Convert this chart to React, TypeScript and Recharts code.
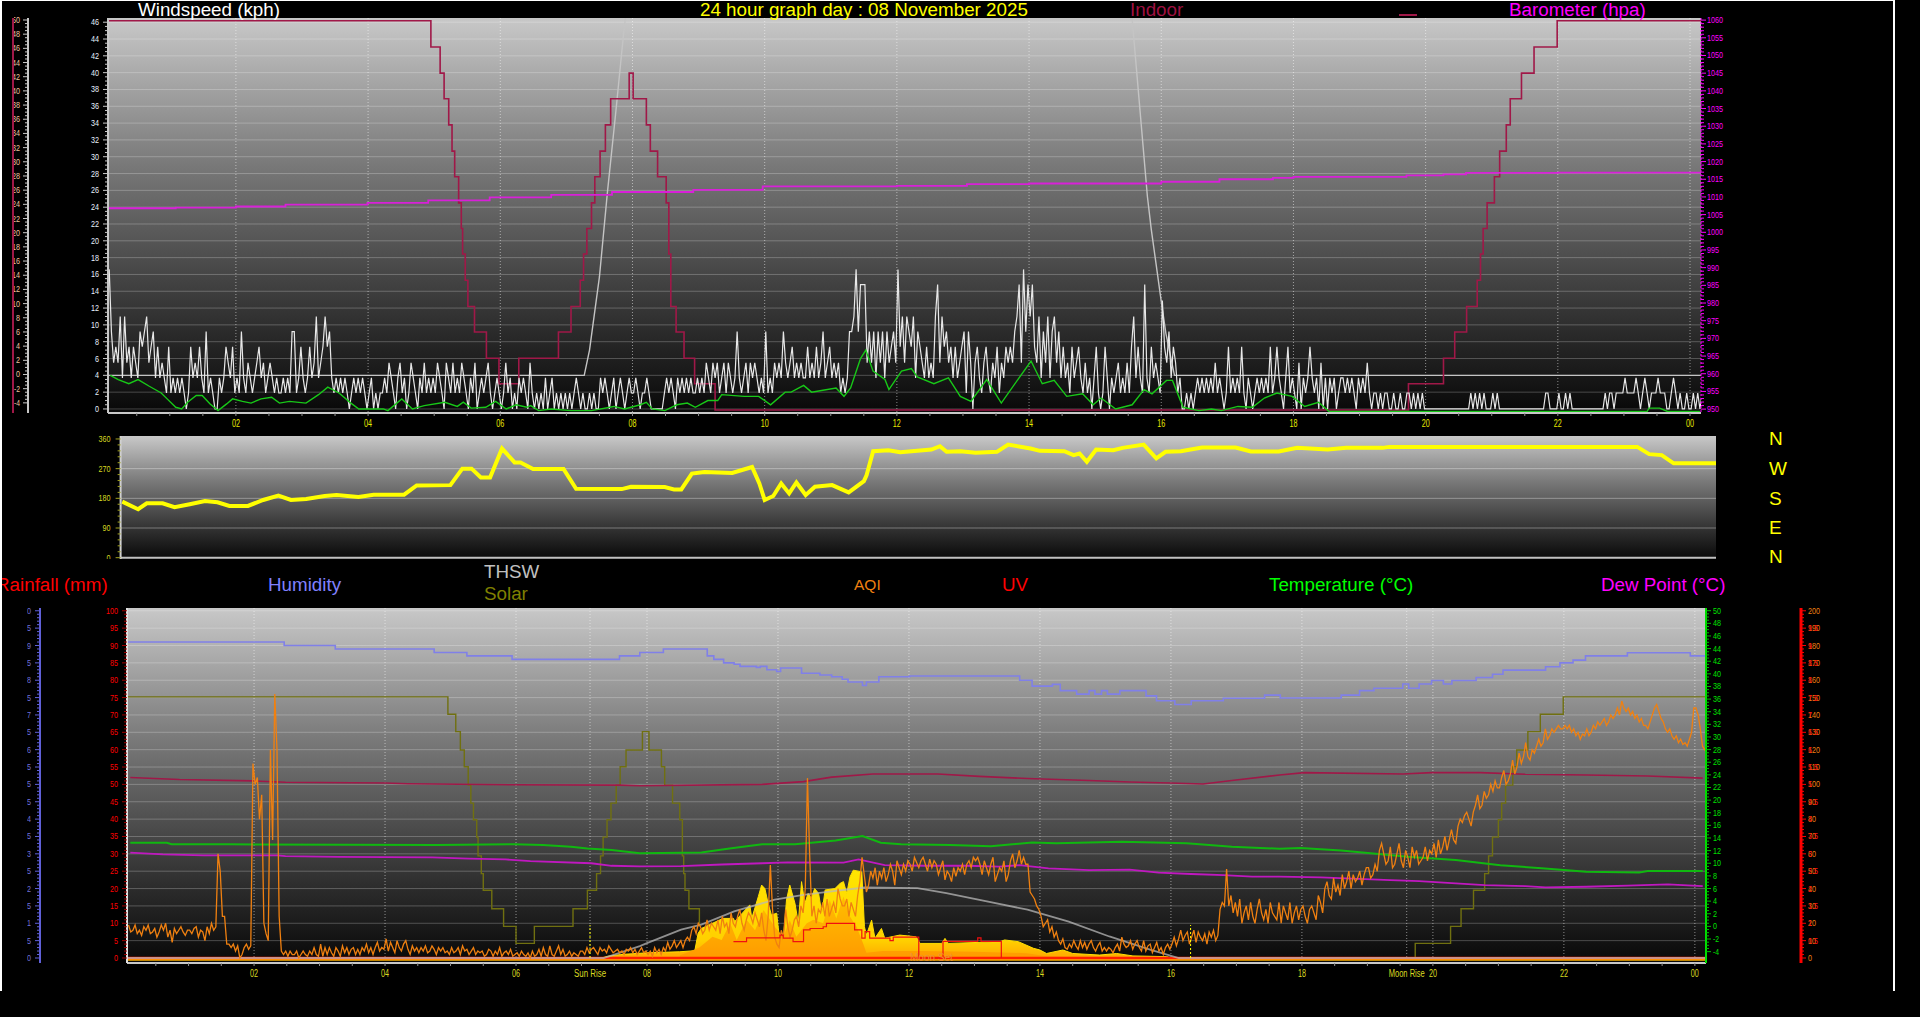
import { CartesianGrid, ComposedChart, Area, Line, ReferenceLine, XAxis, YAxis } from 'recharts'

// hours (decimal) and values, panel by panel

// ---- top panel ----
const windGustByHour = [
  [0,0,16.6,9.2,5.5,7.4,5.5,11,3.7,11,5.5,7.4,3.7,7.4,5.5,3.7,9.2,7.4,9.2,11,5.5,7.4,9.2,3.7,7.4,3.7,5.5,3.7,1.9,7.4],
  [1.9,3.7,1.9,3.7,1.9,3.7,1.9,0,1.9,7.4,3.7,5.5,3.7,7.4,3.7,1.9,9.2,1.9,3.7,1.9,0,0,3.7,1.9,3.7,7.4,5.5,3.7,7.4,1.9],
  [3.7,1.9,9.2,3.7,1.9,5.5,3.7,1.9,3.7,5.5,7.4,3.7,5.5,1.9,3.7,5.5,3.7,1.9,3.7,1.9,1.9,3.7,1.9,3.7,1.9,9.2,9.2,1.9,3.7,7.4],
  [3.7,1.9,3.7,7.4,3.7,5.5,11,3.7,5.5,7.4,11,7.4,9.2,3.7,1.9,3.7,1.9,3.7,1.9,3.7,1.9,0,1.9,3.7,1.9,3.7,1.9,3.7,1.9,0],
  [1.9,3.7,0,1.9,0,1.9,1.9,3.7,1.9,5.5,3.7,1.9,0,3.7,5.5,1.9,3.7,0,1.9,5.5,3.7,1.9,0,3.7,1.9,5.5,1.9,3.7,1.9,3.7],
  [1.9,5.5,3.7,1.9,0,5.5,3.7,1.9,5.5,1.9,3.7,1.9,5.5,3.7,1.9,0,3.7,1.9,5.5,0,1.9,3.7,1.9,3.7,5.5,1.9,0,1.9,3.7,1.9],
  [0,1.9,5.5,1.9,3.7,0,1.9,0,3.7,1.9,3.7,1.9,0,5.5,1.9,0,1.9,0,1.9,0,3.7,0,1.9,3.7,0,1.9,0,1.9,0,1.9],
  [0,1.9,0,1.9,3.7,1.9,0,1.9,0,0,1.9,0,1.9,0,0,3.7,1.9,3.7,1.9,0,1.9,3.7,0,1.9,3.7,1.9,0,1.9,3.7,1.9],
  [1.9,3.7,1.9,0,1.9,1.9,3.7,1.9,0,0,0,0,0,0,1.9,3.7,1.9,3.7,1.9,0,3.7,1.9,3.7,1.9,3.7,1.9,3.7,1.9,1.9,3.7],
  [1.9,3.7,1.9,5.5,3.7,1.9,5.5,3.7,5.5,1.9,3.7,5.5,1.9,5.5,3.7,1.9,3.7,9.2,3.7,1.9,3.7,5.5,1.9,5.5,3.7,5.5,3.7,1.9,3.7,1.9],
  [9.2,1.9,3.7,1.9,5.5,3.7,5.5,3.7,9.2,5.5,3.7,5.5,7.4,3.7,5.5,3.7,5.5,3.7,3.7,7.4,3.7,5.5,3.7,7.4,3.7,5.5,9.2,3.7,5.5,7.4],
  [3.7,5.5,3.7,5.5,1.9,3.7,1.9,3.7,9.2,9.2,11,16.6,9.2,14.8,14.8,14.8,5.5,9.2,5.5,9.2,3.7,9.2,5.5,9.2,3.7,9.2,5.5,7.4,9.2,5.5],
  [16.6,7.4,11,5.5,11,9.2,7.4,11,3.7,9.2,7.4,5.5,3.7,7.4,3.7,5.5,3.7,11,14.8,5.5,11,7.4,9.2,5.5,7.4,3.7,7.4,3.7,5.5,7.4],
  [9.2,1.9,9.2,5.5,0,5.5,7.4,3.7,1.9,5.5,7.4,3.7,1.9,5.5,3.7,7.4,1.9,5.5,3.7,7.4,5.5,7.4,5.5,9.2,11,14.8,5.5,16.6,9.2,14.8],
  [11,14.8,7.4,5.5,11,3.7,9.2,5.5,11,3.7,9.2,11,5.5,9.2,3.7,7.4,3.7,5.5,1.9,7.4,3.7,5.5,7.4,3.7,1.9,5.5,1.9,3.7,0,3.7],
  [7.4,1.9,0,1.9,7.4,3.7,0,3.7,1.9,3.7,5.5,1.9,3.7,1.9,5.5,1.9,7.4,11,3.7,7.4,3.7,1.9,14.8,3.7,1.9,7.4,3.7,5.5,3.7,1.9],
  [12.9,7.4,5.5,9.2,3.7,7.4,5.5,1.9,3.7,0,0,1.9,0,1.9,0,1.9,3.7,1.9,3.7,1.9,3.7,1.9,3.7,1.9,5.5,1.9,3.7,1.9,0,1.9],
  [7.4,1.9,3.7,1.9,3.7,1.9,7.4,1.9,0,3.7,1.9,0,1.9,3.7,1.9,3.7,1.9,3.7,1.9,7.4,1.9,3.7,7.4,3.7,1.9,0,3.7,7.4,1.9,3.7],
  [1.9,0,5.5,0,3.7,1.9,3.7,7.4,3.7,1.9,3.7,0,5.5,0,3.7,0,3.7,1.9,3.7,0,1.9,3.7,3.7,1.9,3.7,1.9,3.7,1.9,0,3.7],
  [1.9,3.7,1.9,5.5,1.9,0,1.9,1.9,0,1.9,0,1.9,1.9,0,0,1.9,0,0,1.9,0,0,1.9,1.9,0,1.9,0,1.9,0,1.9,0],
  [0,0,0,0,0,0,0,0,0,0,0,0,0,0,0,0,0,0,0,0,1.9,0,1.9,0,1.9,0,1.9,0,0,0],
  [1.9,0,1.9,0,0,0,0,0,0,0,0,0,0,0,0,0,0,0,0,0,0,0,0,0,1.9,1.9,0,0,0,0],
  [1.9,0,0,1.9,0,1.9,0,0,0,0,0,0,0,0,0,0,0,0,0,0,0,1.9,0,1.9,1.9,0,1.9,1.9,1.9,1.9],
  [3.7,1.9,1.9,1.9,1.9,3.7,1.9,0,1.9,3.7,1.9,0,1.9,1.9,1.9,3.7,1.9,1.9,1.9,0,0,1.9,3.7,1.9,0,1.9,0,0,1.9,0],
  [0,1.9,0,1.9,0,1.9],
]
const windAvgHours = [.1,.22,.38,.52,.69,.87,.96,1.09,1.18,1.27,1.4,1.49,1.61,1.73,1.86,1.95,2.1,2.23,2.38,2.54,2.66,2.81,3.06,3.25,3.39,3.56,3.74,3.86,4.23,4.3,4.51,4.67,4.85,5.16,5.35,5.44,5.56,5.78,5.93,6.09,6.24,6.4,6.46,6.58,6.77,7.07,7.38,7.72,7.88,8.12,8.21,8.3,8.49,8.67,8.83,8.95,9.14,9.29,9.35,9.69,9.91,10.09,10.31,10.4,10.59,10.71,10.86,11.08,11.2,11.3,11.45,11.53,11.64,11.82,11.88,12.07,12.22,12.31,12.56,12.78,12.96,13.12,13.36,13.58,13.83,14.03,14.2,14.38,14.57,14.81,14.97,15.09,15.31,15.56,15.74,15.86,16.08,16.17,16.33,16.57,16.76,16.91,17.16,17.38,17.56,17.75,17.98,18.17,18.38,18.54,23.35,23.38,23.54,23.66,24.15]
const windAvgValues = [4,3.5,3,3.5,2.7,1.9,1.2,.2,0,.8,1.6,1.6,.6,-.2,.6,1.2,.9,.7,1.2,1.4,.7,.9,.7,1.7,2.6,1.9,.7,0,0,-.2,1.2,0,.4,.8,.3,.8,.1,.2,.9,0,.5,.2,.4,-.2,0,-.2,-.2,.3,0,.5,.8,0,-.2,.5,.7,.2,1,1,1.7,1.5,1.5,.5,2,2,2.8,2,2.2,2.5,1.5,2.5,6,7,4.5,3.5,2.3,4.5,4.8,3.8,3,3.7,1.5,.9,3.5,.7,3.5,5.7,3,3.4,1.5,1.8,.5,1.3,0,.5,2.3,1.8,3.4,3.4,.2,-.2,0,-.2,.3,.2,1.3,1.9,1.5,.3,.8,-.3,-.3,.1,.1,-.3,-.3]
const indoorHours = [.065,4.95,5.09,5.15,5.22,5.27,5.31,5.37,5.41,5.43,5.47,5.51,5.61,5.79,5.98,6.28,6.88,7.07,7.21,7.26,7.31,7.38,7.43,7.51,7.59,7.67,7.95,8.01,8.21,8.27,8.38,8.51,8.55,8.58,8.66,8.78,8.94,9.25,19.74,20.27,20.44,20.62,20.78,20.83,20.87,20.93,21.04,21.12,21.22,21.28,21.45,21.64,21.99,24.17]
const indoorValues = [49.9,46.2,42.5,38.9,35.2,31.5,27.9,24.2,20.6,17,13.3,9.6,6,2.3,-1.3,2.3,6,9.6,13.3,17,20.6,24.2,27.9,31.5,35.2,38.9,42.5,38.9,35.2,31.5,27.9,24.2,17,9.6,6,2.3,-1.3,-5,-1.3,2.3,6,9.6,13.3,17,20.6,24.2,27.9,31.5,35.2,38.9,42.5,46.2,49.9,49.9]
const baroHours = [.07,1.09,2,2.75,3.99,4.91,5.84,6.77,7.69,8.92,9.97,12,13.06,14,16,16.88,17.69,18,19.71,20.27,20.61,22,24.17]
const baroValues = [1006.8,1007,1007.3,1007.8,1008.3,1009,1009.9,1010.6,1011.4,1012,1013,1013.1,1013.6,1013.8,1014.3,1015,1015.4,1015.7,1016.1,1016.4,1016.8,1016.9,1017.1]
const upperThswHours = [.07,7.27,7.35,7.5,7.62,7.75,7.87,8.1,15.4,15.575,15.79,15.85,16,16.07,16.2,24.17]
const upperThswValues = [4,4,7,15.7,25.7,35.5,45,60,60,45,25.3,21.3,12.8,9,4,4]

// ---- middle panel ----
const dirHours = [.09,.33,.46,.7,.88,1.11,1.34,1.53,1.71,1.99,2.22,2.45,2.64,2.87,3.15,3.33,3.66,3.89,4.35,4.54,5.05,5.23,5.37,5.51,5.65,5.83,6.02,6.11,6.3,6.76,6.95,7.64,7.78,8.29,8.43,8.54,8.7,8.89,9.31,9.61,9.72,9.8,9.93,10.05,10.17,10.28,10.42,10.56,10.82,11.07,11.3,11.34,11.44,11.67,11.85,12.32,12.45,12.55,12.76,12.99,13.31,13.48,13.82,13.96,14.33,14.47,14.56,14.67,14.81,15.07,15.21,15.53,15.72,15.86,16.09,16.41,16.92,17.15,17.57,17.85,18.31,18.59,19.14,19.24,22.99,23.17,23.36,23.54,24.19]
const dirValues = [170,147,165,165,153,162,172,168,157,157,175,188,175,178,187,190,184,191,191,219,220,270,270,243,243,331,289,289,269,269,209,208,215,214,207,207,255,260,257,275,225,175,187,225,195,228,190,215,220,198,232,250,323,326,320,328,338,321,323,318,321,343,331,324,323,311,316,291,328,326,333,343,301,321,323,334,334,322,322,333,328,333,333,336,336,314,311,286,286]
const compassLabels = ['N', 'W', 'S', 'E', 'N']

// ---- bottom panel ----
const aqiByHour = [
  [9,8,9.5,7.5,8,9.5,7,8,6.5,9,8,9.5,7,7.5,8.5,6,7.5,9.5,8,10,6,8,4.5,8.5,7,8,9,7.5,6.5,8],
  [8,7,8.5,9,6,8,7.5,5,9,7,10,8,9,30,25,12,12,4,4,3,4,2,3.5,0,1,3,4,2.5,3.5,56],
  [50,52,40,47,10,7,5,60,34,76,60,12,2,1,2,.5,2,1,1,2,0,1,2,1,.5,2,1,3,1,.5],
  [4,.5,3,1,3,1.5,.5,3,2,.5,3.5,1.5,3,1,2.5,3,1,2.5,1,3,2,4,1.5,3,1,3,4.5,2,3,2.5],
  [5.5,2,4.5,3,1.5,5,3,2,4,5,2.5,1,3.5,2,3,1.5,3,2,3.5,1.5,2,3.5,2.5,1,3,2,3,1.5,2,1],
  [3,1.5,2,3,1,3.5,2,2.5,1,2,3,1,2,1.5,2,.5,1,2.5,2,.5,2,1,3,.5,1.5,2,1,2.5,.5,1],
  [1.5,.5,2,1,.5,1.5,0,2,.5,1,2.5,.5,3,1,.5,3.5,1,.5,2,3.5,1,2.5,.5,1,2,.5,1.5,1,.5,2],
  [2,1,3,1.5,2.5,3,2,1,3,2,2.5,1.5,3.5,2.5,1.5,2,2.5,1.5,2,1,2.5,2,3,1.5,2.5,1,2,3,1.5,2],
  [1,2,.5,3,1.5,2.5,1,3,2,4.5,2.5,3.5,5,3,4,5,3,5,6,5,8,9,7,10,9,7,8,11,8,10],
  [9,8,11,7,12,9,10,7,13,10,9,12,14,10,8,11,13,12,10,13,11,9,13,8,5,12,26.8,14,6,4],
  [3,8,6,14,9,6,8,11,12,9,15,13,20,51.8,30,12,15,10,14,13,16,12,17,12,14,16,13,20,17,15],
  [15,17,12,16,14,12,18,22,29,24,19,21,25,23,26,21,25,23,26,22,24,27,25,21,28,26,24,27,25,28],
  [27,25,29,27.5,26,28,29,27,25,28.5,26,28,27,24,26,28,22.5,25,24,22,26,23.5,26,25,27,24,27,28,26,29],
  [28,29,27,24,28,26,24,27,29,22,24,26,25,28,22,24,28,30,26,28,31,27,29,27,27,19,18,17,15,14],
  [12,9,10,11,7.5,9,6,7.5,5,4,5.5,3,2.5,4,3,5,3.5,2.5,5,3,4.5,2.5,4,5,3,2,3.5,4.5,2,3],
  [2,3,2.5,1.5,3,4,2,6,4,3,3.5,5,2.5,4,5,3,2,5,2,3.5,4,1.5,3,4.5,2,3,1,3,4,2.5],
  [4,6,3.5,5.5,8,5,6.5,7.5,4,6,8,4.5,7.5,6,5,7,4,7.5,6,8,5,6.5,14,16,15,25.6,15,18,13,16],
  [12,17,10,13,15,11,16,12,10,14,17,13,11,14,10,16,13,12,11,16,10,15,13,11,16,10,13,15,11,14],
  [15,12,10,14,15,13,11,18,16,13,20,22,18,17,23,19,21,18,24,20,22,25,20,24,22,23,25,21,24,26],
  [26,23,24,27,25,31,33,30,27,28,32,26,27,30,33,28,26,31,29,26,32,29,31,27,28,29,32,28,31,30],
  [33,29,34,30,32,35,31,34,37,34,33,38,40,39,41,42,40,38,42,44,47,43,44,48,46,47,50,48,51,49],
  [49,52,54,50,51,53,57,53,55,59,56,58,62,58,57,60,59,61,63,61,62,66,63,64,66,65,66,67,66,66],
  [67,66,67,65,66,64,65,63,64.5,64,66,64,65,67,66,68,67,68,69,67,68,70,69,70,72,70,74,72,71,72],
  [70,71,69,70,68,69,67,67,66,68,70,72,73,71,69,68,66,65,66,64,63,64,62,63,61.5,62,61,63,65,72],
  [72,70,66,61,60,59],
]
const humidityHours = [.06,2.46,3.24,4.75,5.25,5.94,7.58,7.89,8.25,8.92,9.02,9.17,9.33,9.42,9.67,9.73,9.83,9.98,10.04,10.36,10.64,10.82,10.98,11.07,11.29,11.35,11.54,12.01,13.69,13.88,14.19,14.31,14.56,14.75,14.84,14.94,15.03,15.22,15.62,15.78,16.06,16.31,16.8,17.43,17.67,18.6,18.88,19.1,19.54,19.63,19.79,19.98,20.16,20.29,20.66,20.91,21.07,21.72,21.94,22.14,22.33,22.97,23.93,24.17]
const humidityValues = [91,90,89,88,87,86,87,88,89,87,86,85,84.6,84,83.7,84,83,82.5,83.5,82,81.5,81,80.3,79.5,78.5,79.5,81,81.2,80,78.3,78.8,77,76,77,76,77,76,77,75.5,74.1,73,74.1,74.8,75.7,74.9,75.7,77,77.7,78.9,77.7,78.9,79.9,78.9,79.9,80.8,81.7,82.9,83.9,85,85.8,87,87.9,87,87]
const indoorHumHours = [.11,.86,1.98,2.48,4,4.35,5.91,7.59,7.89,9.76,10.39,10.82,11.45,12.44,13.07,13.81,14.75,15.37,15.99,16.49,16.93,17.66,18.04,19.54,19.98,20.72,21.41,22.34,23.28,24.12]
const indoorHumValues = [52,51.4,51,50.6,50.4,50.2,49.9,49.8,49.6,50,50.8,52.1,53,53,52.3,51.7,51.1,50.7,50.4,50.1,51.1,52.7,53.4,53,53.4,53.4,52.9,52.7,52.4,51.8]
// disappears under the solar area after 08:50, so there is a gap there
const solarStepHours = [.06,4.96,5.08,5.15,5.21,5.27,5.31,5.35,5.4,5.42,5.47,5.5,5.63,5.81,6,6.28,6.87,7.09,7.23,7.29,7.33,7.39,7.45,7.53,7.59,7.68,7.93,8.03,8.22,8.27,8.39,8.5,8.54,8.56,8.58,8.64,8.8,8.9,19.72,19.73,20.27,20.43,20.62,20.79,20.85,20.91,21,21.05,21.11,21.22,21.28,21.45,21.64,21.99,24.17]
const solarStepValues = [75.2,70.2,65.2,59.9,55.1,49.8,44.6,39.8,34.8,29.4,24.3,19.5,14.2,9.1,4.2,9.1,14.2,19.5,24.3,29.4,34.8,39.8,44.6,49.8,55.1,59.9,65.2,59.9,55.1,49.8,44.6,39.8,29.4,24.3,19.5,14.2,9.1,null,0,4.2,9.1,14.2,19.5,24.3,29.4,34.8,39.8,44.6,49.8,55.1,59.9,65.2,70.2,75.2,75.2]
const temperatureHours = [.11,.67,.74,1.61,4.79,5.97,6.41,6.84,7.09,7.46,7.89,8.83,9.26,9.76,10.26,10.88,11.29,11.57,11.88,12.63,13.25,13.88,14.25,15.25,16.24,16.93,17.66,17.98,18.6,19.17,19.66,20.35,21.03,21.66,22.34,23.15,23.28,24.12]
const temperatureValues = [13.25,13.25,13,13,12.9,13,12.9,12.6,12.35,12.1,11.6,11.7,12.35,13,13,13.6,14.3,13.25,13,12.9,12.7,13.3,13.15,13.4,13.15,12.6,12.3,12.4,12,11.45,11,10.5,9.7,9.2,8.66,8.55,8.76,8.76]
const dewHours = [.11,.61,1.23,2.36,2.48,3.29,4.72,5.28,5.84,6.22,7.15,7.46,7.89,8.52,9.14,9.76,10.14,11,11.23,11.63,12.26,12.88,13.38,13.69,14.13,14.75,15.37,15.81,16.31,16.8,17.24,17.66,18.29,19.35,19.79,20.35,20.79,21.41,21.72,22.34,22.97,23.59,24.12]
const dewValues = [11.67,11.4,11.25,11.25,11.14,11,10.93,10.72,10.6,10.35,10,9.6,9.5,9.56,9.8,10,10.14,10.1,10.6,9.7,9.6,9.6,9.45,9.7,9.2,8.9,9,8.5,8.3,8.13,7.87,7.87,7.76,7.34,7.18,6.8,6.55,6.39,6.18,6.28,6.44,6.65,6.39]
const clearSkyHours = [.06,7.34,7.89,8,8.52,8.83,9.33,9.95,10.39,10.82,11.32,12.13,12.57,13.19,13.81,14.44,15.06,15.68,16.12,24.17]
const clearSkyValues = [0,0,3.4,4.3,8.15,9.6,13.4,16.8,18.2,19.2,20.3,20.1,18.7,16.3,13.9,10.5,6.2,2.4,0,0]
const solarHours = [7.3,7.4,7.6,8,8.5,8.73,8.78,8.83,9.16,9.32,9.34,9.57,9.6,9.7,9.75,9.8,9.85,9.9,9.98,10.02,10.08,10.13,10.18,10.26,10.31,10.36,10.41,10.46,10.51,10.56,10.62,10.67,10.72,10.87,10.95,11,11.05,11.1,11.15,11.28,11.32,11.35,11.43,11.48,11.58,11.63,11.86,12.11,12.17,12.5,12.55,12.6,13.39,13.46,13.67,13.9,14,14.1,14.35,14.5,14.91,15.17,15.42,15.93,16.03]
const solarValues = [0,.5,1,1.5,1.8,2.1,7.1,8.5,11.4,11.4,10.5,15.3,11.4,17.7,21,20,15.7,12.4,12.9,6.1,4.7,16.7,21,15.7,10,22,15.7,18.6,17.2,20,18.6,12.9,19.6,20,21.5,22,18.6,23.4,25.3,24.8,9,6.6,10.9,5.7,8.5,5.7,6.6,6.1,4.2,4.2,5.65,4.2,4.7,5.2,4.7,2.8,2.3,1.3,2.3,1.3,.85,1.3,.6,.4,0]
const solarCoreHours = [8.5,8.8,9.0,9.14,9.27,9.37,9.52,9.65,9.78,9.95,10.08,10.18,10.28,10.44,10.54,10.69,10.79,10.89,11.0,11.1,11.2,11.3,11.35,11.6,12.2,13.0,13.8,14.1,15,16]
const solarCoreValues = [.7,3,6.1,5.2,10,5.2,11,8,13.8,9,6.1,10.9,6.1,10,11,10,16.7,11.4,17.7,11.9,9,4.2,1.5,2,2,1.8,1.4,.5,.3,0]
const uvHours = [9.32,9.52,10.03,10.08,10.23,10.39,10.49,10.69,10.74,11.17,11.28,11.33,11.4,11.71,11.76,12.15,12.52,13.05,13.1,13.41]
const uvValues = [.47,.58,.66,.57,.47,.81,.85,.9,1,.81,.57,.76,.57,.5,.6,0,.48,.58,.48,0]
const rainHours = [.06,24.17]
const rainValues = [0,0]
const baselineValues = [-.55,-.55]

const hourLabels: Record<number, string> = { 2: '02', 4: '04', 6: '06', 8: '08', 10: '10', 12: '12', 14: '14', 16: '16', 18: '18', 20: '20', 22: '22', 24: '00' }
const sunRise = 7.13
const sunSet = 16.3
const moonRise = 19.6
const labelledTitles = [
  { text: 'Windspeed (kph)', x: 138, y: 10, color: '#ffffff' },
  { text: '24 hour graph day : 08 November 2025', x: 700, y: 10, color: '#ffff00' },
  { text: 'Indoor', x: 1130, y: 10, color: '#a01040' },
  { text: 'Barometer (hpa)', x: 1509, y: 10, color: '#ff00ff' },
  { text: 'Rainfall (mm)', x: -4, y: 585, color: '#ff0000' },
  { text: 'Humidity', x: 268, y: 585, color: '#8080ff' },
  { text: 'THSW', x: 484, y: 572, color: '#c0c0c0' },
  { text: 'Solar', x: 484, y: 594, color: '#808000' },
  { text: 'UV', x: 1002, y: 585, color: '#ff0000' },
  { text: 'Temperature (°C)', x: 1269, y: 585, color: '#00ff00' },
  { text: 'Dew Point (°C)', x: 1601, y: 585, color: '#ff00ff' },
]

const toPoints = (hours: number[], values: (number | null)[]) => hours.map((t, i) => ({ t, v: values[i] }))
const fromRows = (rows: number[][], perHour: number, start: number) =>
  rows.flatMap((row, h) => row.map((v, i) => ({ t: h + (i + 0.5) / perHour, v }))).filter((p) => p.t >= start)
const steps = (from: number, to: number, by: number) => {
  const out: number[] = []
  for (let i = 0; from + i * by <= to + 1e-6; i++) out.push(Math.round((from + i * by) * 100) / 100)
  return out
}

const FONT = '"Liberation Sans", Arial, sans-serif'
const halfHours = steps(0.5, 24, 0.5)
const evenHours = steps(2, 24, 2)

// the small labels in the picture are squeezed, about 4px per digit
const labelWidth = (text: string) => [...text].reduce((w, c) => w + (c === '.' || c === '-' ? 2 : 4), 0)

// value axis tick: short mark, text only on the major values
const valueTick = (opts: { side: 'left' | 'right'; every: number; color: string; mark: string; gap: number; clip?: string; extra?: (v: number) => string | null; extraColor?: string }) =>
  (p: any) => {
    const v = p.payload.value
    const major = Math.abs(v / opts.every - Math.round(v / opts.every)) < 1e-6
    const dir = opts.side === 'left' ? -1 : 1
    const extra = opts.extra ? opts.extra(v) : null
    const text = String(v)
    return (
      <g>
        <line x1={p.x} x2={p.x + dir * (major ? 5 : 3)} y1={p.y} y2={p.y} stroke={opts.mark} strokeWidth={1} />
        {major && (
          <text x={p.x + dir * opts.gap} y={p.y + 3} fontSize={9.5} fontFamily={FONT} fill={opts.color}
            textLength={labelWidth(text)} lengthAdjust="spacingAndGlyphs"
            textAnchor={opts.side === 'left' ? 'end' : 'start'} clipPath={opts.clip}>{text}</text>
        )}
        {major && extra !== null && (
          <text x={p.x + dir * opts.gap} y={p.y + 3} fontSize={9.5} fontFamily={FONT} fill={opts.extraColor}
            textLength={labelWidth(extra)} lengthAdjust="spacingAndGlyphs" textAnchor="start">{extra}</text>
        )}
      </g>
    )
  }

const timeTick = (extra: Record<number, string>, color: string) => (p: any) => {
  const v = p.payload.value
  const text = hourLabels[v] ?? extra[v]
  return (
    <g>
      {!extra[v] && <line x1={p.x} x2={p.x} y1={p.y} y2={p.y + 3} stroke="#909090" />}
      {text && (
        <text x={p.x} y={p.y + 14} fontSize={10} fontFamily={FONT} fill={color} textAnchor="middle"
          textLength={labelWidth(text)} lengthAdjust="spacingAndGlyphs">{text}</text>
      )}
    </g>
  )
}

const panelGradient = (id: string) => (
  <defs>
    <linearGradient id={id} x1="0" y1="0" x2="0" y2="1">
      <stop offset="0" stopColor="#c8c8c8" />
      <stop offset="0.375" stopColor="#787878" />
      <stop offset="0.8" stopColor="#2a2a2a" />
      <stop offset="1" stopColor="#080808" />
    </linearGradient>
  </defs>
)

const TIME_DOMAIN_TOP: [number, number] = [0.065, 24.166]
const TIME_DOMAIN_BOTTOM: [number, number] = [0.06, 24.17]

function TopPanel() {
  return (
    <ComposedChart width={1745} height={433} margin={{ top: 18, right: 0, bottom: 0, left: 0 }} style={{ position: 'absolute', left: 0, top: 0 }}>
      {panelGradient('bgTop')}
      <defs><clipPath id="clipIndoor"><rect x={14} y={0} width={20} height={433} /></clipPath></defs>
      <CartesianGrid yAxisId="a1Wind" fill="url(#bgTop)" vertical={false} horizontalValues={steps(0, 46, 2)} stroke="rgba(255,255,255,0.24)" />
      <CartesianGrid yAxisId="a1Wind" horizontal={false} verticalValues={evenHours} stroke="rgba(255,255,255,0.5)" strokeDasharray="1 2" />
      <XAxis xAxisId={0} type="number" dataKey="t" domain={TIME_DOMAIN_TOP} allowDataOverflow ticks={halfHours} interval={0}
        height={20} tickSize={0} tickMargin={0} tickLine={false} stroke="#c8c8c8" strokeWidth={2} tick={timeTick({}, '#e8e800')} />
      <YAxis yAxisId="a1Wind" orientation="left" width={80} domain={[-0.48, 46.5]} allowDataOverflow ticks={steps(0, 46, 0.5)} interval={0}
        tickSize={0} tickMargin={0} tickLine={false} stroke="#c8c8c8" strokeWidth={2}
        tick={valueTick({ side: 'left', every: 2, color: '#e8f0ff', mark: '#c8c8c8', gap: 9 })} />
      <YAxis yAxisId="a2Indoor" orientation="left" width={28} domain={[-5.43, 50.28]} allowDataOverflow ticks={steps(-4, 50, 0.5)} interval={0}
        tickSize={0} tickMargin={0} tickLine={false} stroke="#c8c8c8" strokeWidth={2}
        tick={valueTick({ side: 'left', every: 2, color: '#f0c0a0', mark: '#c8c8c8', gap: 8, clip: 'url(#clipIndoor)' })} />
      <YAxis yAxisId="baro" orientation="right" width={44} domain={[948.9, 1060.6]} allowDataOverflow ticks={steps(950, 1060, 1)} interval={0}
        tickSize={0} tickMargin={0} tickLine={false} stroke="#ff00ff" strokeDasharray="2 2"
        tick={valueTick({ side: 'right', every: 5, color: '#ff00ff', mark: '#ff00ff', gap: 6 })} />
      <Line yAxisId="a1Wind" data={toPoints(upperThswHours, upperThswValues)} dataKey="v" stroke="#c4c4c4" strokeWidth={1.4} dot={false} isAnimationActive={false} />
      <Line yAxisId="a2Indoor" data={toPoints(indoorHours, indoorValues)} dataKey="v" type="stepAfter" stroke="#a01848" strokeWidth={1.6} dot={false} isAnimationActive={false} />
      <Line yAxisId="baro" data={toPoints(baroHours, baroValues)} dataKey="v" type="stepAfter" stroke="#d820d8" strokeWidth={1.8} dot={false} isAnimationActive={false} />
      <Line yAxisId="a1Wind" data={fromRows(windGustByHour, 30, 0.065)} dataKey="v" stroke="#e8e8e8" strokeWidth={1.2} dot={false} isAnimationActive={false} />
      <Line yAxisId="a1Wind" data={toPoints(windAvgHours, windAvgValues)} dataKey="v" stroke="#18c818" strokeWidth={1.4} dot={false} isAnimationActive={false} />
    </ComposedChart>
  )
}

function MiddlePanel() {
  return (
    <ComposedChart width={1716} height={129} margin={{ top: 6, right: 0, bottom: 0, left: 0 }} style={{ position: 'absolute', left: 0, top: 430 }}>
      {panelGradient('bgMid')}
      <CartesianGrid yAxisId="dir" fill="url(#bgMid)" vertical={false} horizontalValues={[90, 180, 270]} stroke="rgba(255,255,255,0.35)" />
      <XAxis xAxisId={0} type="number" dataKey="t" domain={[0.065, 24.18]} allowDataOverflow hide />
      <YAxis yAxisId="dir" orientation="left" width={120.6} domain={[-4, 369]} allowDataOverflow ticks={steps(0, 360, 18)} interval={0}
        tickSize={0} tickMargin={0} tickLine={false} stroke="#d0d0d0" strokeWidth={2}
        tick={valueTick({ side: 'left', every: 90, color: '#d8d820', mark: '#a0a020', gap: 10 })} />
      <ReferenceLine yAxisId="dir" y={0} stroke="#c0c0c0" strokeWidth={2} />
      <Line yAxisId="dir" data={toPoints(dirHours, dirValues)} dataKey="v" stroke="#ffff00" strokeWidth={4} dot={false} isAnimationActive={false} />
    </ComposedChart>
  )
}

function BottomPanel() {
  return (
    <ComposedChart width={1830} height={383} margin={{ top: 8, right: 0, bottom: 0, left: 0 }} style={{ position: 'absolute', left: 0, top: 600 }}>
      {panelGradient('bgLow')}
      <defs>
        <clipPath id="clipRain"><rect x={27} y={0} width={20} height={383} /></clipPath>
        <linearGradient id="solarFill" x1="0" y1="0" x2="0" y2="1">
          <stop offset="0" stopColor="#ffe600" />
          <stop offset="0.8" stopColor="#ffd000" />
          <stop offset="1" stopColor="#ffa800" />
        </linearGradient>
        <linearGradient id="solarCore" x1="0" y1="0" x2="0" y2="1">
          <stop offset="0" stopColor="#ffbc00" />
          <stop offset="1" stopColor="#ff9a00" />
        </linearGradient>
      </defs>
      <CartesianGrid yAxisId="a1Left" fill="url(#bgLow)" vertical={false} horizontalValues={steps(5, 100, 5)} stroke="rgba(255,255,255,0.24)" />
      <CartesianGrid yAxisId="a1Left" horizontal={false} verticalValues={[...evenHours, sunRise, moonRise]} stroke="rgba(255,255,255,0.5)" strokeDasharray="1 2" />
      <XAxis xAxisId={0} type="number" dataKey="t" domain={TIME_DOMAIN_BOTTOM} allowDataOverflow ticks={[...halfHours, sunRise, moonRise]} interval={0}
        height={20} tickSize={0} tickMargin={0} tickLine={false} stroke="#c8c8c8" strokeWidth={2}
        tick={timeTick({ [sunRise]: 'Sun Rise', [moonRise]: 'Moon Rise' }, '#dcdc20')} />
      <YAxis yAxisId="a1Left" orientation="left" width={87} domain={[-1.44, 100.8]} allowDataOverflow ticks={steps(0, 100, 1)} interval={0}
        tickSize={0} tickMargin={0} tickLine={false} stroke="#e0e0e0" strokeWidth={2}
        tick={valueTick({ side: 'left', every: 5, color: '#ff0000', mark: '#a00000', gap: 9 })} />
      <YAxis yAxisId="a2Rain" orientation="left" width={40} domain={[-0.144, 10.08]} allowDataOverflow ticks={steps(0, 10, 0.1)} interval={0}
        tickSize={0} tickMargin={0} tickLine={false} stroke="#6060d8" strokeWidth={2}
        tick={valueTick({ side: 'left', every: 0.5, color: '#7070d8', mark: '#6060d8', gap: 9, clip: 'url(#clipRain)' })} />
      <YAxis yAxisId="a1Temp" orientation="right" width={95} domain={[-5.8, 50.43]} allowDataOverflow ticks={steps(-4, 50, 0.5)} interval={0}
        tickSize={0} tickMargin={0} tickLine={false} stroke="#00e000" strokeWidth={2}
        tick={valueTick({ side: 'right', every: 2, color: '#00e000', mark: '#00c000', gap: 7 })} />
      <YAxis yAxisId="a2Aqi" orientation="right" width={29} domain={[-2.88, 201.6]} allowDataOverflow ticks={steps(0, 200, 2)} interval={0}
        tickSize={0} tickMargin={0} tickLine={false} stroke="#ff0000" strokeWidth={3}
        tick={valueTick({ side: 'right', every: 10, color: '#f08010', mark: '#ff0000', gap: 7, extra: (v) => (v > 0 && v < 200 ? String(v / 20) : null), extraColor: '#ff1010' })} />
      <YAxis yAxisId="uv" hide domain={[-0.144, 10.08]} allowDataOverflow />
      <Line yAxisId="a1Left" data={toPoints(solarStepHours, solarStepValues)} dataKey="v" type="stepAfter" stroke="#707010" strokeWidth={1.4} dot={false} isAnimationActive={false} />
      <Area yAxisId="a1Left" data={toPoints(solarHours, solarValues)} dataKey="v" stroke="#ffe000" strokeWidth={1} fill="url(#solarFill)" fillOpacity={1} dot={false} isAnimationActive={false} />
      <Area yAxisId="a1Left" data={toPoints(solarCoreHours, solarCoreValues)} dataKey="v" stroke="none" fill="url(#solarCore)" fillOpacity={0.95} dot={false} isAnimationActive={false} />
      <Line yAxisId="a1Left" data={toPoints(humidityHours, humidityValues)} dataKey="v" type="stepAfter" stroke="#8080e8" strokeWidth={1.6} dot={false} isAnimationActive={false} />
      <Line yAxisId="a1Left" data={toPoints(indoorHumHours, indoorHumValues)} dataKey="v" stroke="#a01848" strokeWidth={1.6} dot={false} isAnimationActive={false} />
      <Line yAxisId="a1Temp" data={toPoints(temperatureHours, temperatureValues)} dataKey="v" stroke="#10b810" strokeWidth={2} dot={false} isAnimationActive={false} />
      <Line yAxisId="a1Temp" data={toPoints(dewHours, dewValues)} dataKey="v" stroke="#c018c0" strokeWidth={1.8} dot={false} isAnimationActive={false} />
      <Line yAxisId="a1Left" data={toPoints(rainHours, baselineValues)} dataKey="v" stroke="#ffb000" strokeWidth={1.6} dot={false} isAnimationActive={false} />
      <Line yAxisId="a2Rain" data={toPoints(rainHours, rainValues)} dataKey="v" stroke="#ff2000" strokeWidth={2.4} dot={false} isAnimationActive={false} />
      <Line yAxisId="a1Left" data={toPoints(clearSkyHours, clearSkyValues)} dataKey="v" stroke="#b8b8b8" strokeOpacity={0.75} strokeWidth={1.8} dot={false} isAnimationActive={false} />
      <Line yAxisId="a1Left" data={fromRows(aqiByHour, 30, 0.06)} dataKey="v" stroke="#f08010" strokeWidth={1.3} dot={false} isAnimationActive={false} />
      <Line yAxisId="uv" data={toPoints(uvHours, uvValues)} dataKey="v" type="stepAfter" stroke="#f01010" strokeWidth={1.2} dot={false} isAnimationActive={false} />
      <ReferenceLine yAxisId="a2Rain" segment={[{ x: sunRise, y: 0 }, { x: sunRise, y: 0.95 }]} stroke="#ffff00" strokeDasharray="2 2" />
      <ReferenceLine yAxisId="a2Rain" segment={[{ x: sunSet, y: 0 }, { x: sunSet, y: 0.95 }]} stroke="#ffff00" strokeDasharray="2 2" />
    </ComposedChart>
  )
}

const absText = (x: number, y: number, color: string, size: number) => ({
  position: 'absolute' as const, left: x, top: y - size / 2, color, fontSize: size, lineHeight: `${size}px`,
  fontFamily: FONT, whiteSpace: 'nowrap' as const,
})

export default function App() {
  document.body.style.margin = '0'
  document.body.style.background = '#000'
  return (
    <div style={{ position: 'relative', width: 1920, height: 1017, background: '#000', overflow: 'hidden' }}>
      <TopPanel />
      <MiddlePanel />
      <BottomPanel />
      <div style={{ position: 'absolute', left: 12, top: 18, width: 2, height: 395, background: '#a01848' }} />
      {labelledTitles.map((l) => (
        <div key={l.text} style={absText(l.x, l.y, l.color, 18.8)}>{l.text}</div>
      ))}
      <div style={absText(854, 585, '#f08010', 15.5)}>AQI</div>
      <div style={{ position: 'absolute', left: 1399, top: 14, width: 18, height: 2, background: '#a01848' }} />
      <div style={absText(910, 958, '#f09030', 10)}>Moon Set</div>
      {compassLabels.map((c, i) => (
        <div key={i} style={{ ...absText(1769, [438, 468, 498, 527, 556][i], '#ffff00', 19) }}>{c}</div>
      ))}
      <div style={{ position: 'absolute', left: 0, top: 0, width: 1895, height: 1, background: '#fff' }} />
      <div style={{ position: 'absolute', left: 0, top: 0, width: 2, height: 991, background: '#fff' }} />
      <div style={{ position: 'absolute', left: 1893, top: 0, width: 2, height: 991, background: '#fff' }} />
    </div>
  )
}
